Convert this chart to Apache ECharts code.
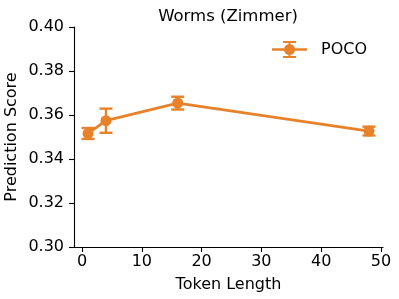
<!DOCTYPE html>
<html><head><meta charset="utf-8">
<script src="https://cdn.jsdelivr.net/npm/echarts@6/dist/echarts.min.js"></script>
<style>html,body{margin:0;padding:0;background:#fff}#c{width:399px;height:299px}</style>
</head><body><div id="c"></div>
<script>
const tokenLengths = [1, 4, 16, 48];
const scores = [0.3516, 0.3574, 0.3654, 0.3527];
const errors = [0.0025, 0.0055, 0.0029, 0.0020];
const xTicks = [0, 10, 20, 30, 40, 50];
const seriesName = 'POCO';
const titleText = 'Worms (Zimmer)';
const xName = 'Token Length';
const yName = 'Prediction Score';

const color = '#E8822A';
const font = 'DejaVu Sans';
const fs = 16;
const chart = echarts.init(document.getElementById('c'), null, {renderer: 'canvas'});
const lineData = tokenLengths.map((x, i) => [x, scores[i]]);
const errData = tokenLengths.map((x, i) => [x, scores[i] - errors[i], scores[i] + errors[i]]);
const icon = 'path://M0,7.25 L35,7.25 L35,9.75 L0,9.75 Z M16.5,0 L18.5,0 L18.5,17 L16.5,17 Z M11,0 L24,0 L24,2 L11,2 Z M11,15 L24,15 L24,17 L11,17 Z M12,8.5 A5.5,5.5 0 1,1 23,8.5 A5.5,5.5 0 1,1 12,8.5 Z';

chart.setOption({
  animation: false,
  backgroundColor: '#fff',
  title: {text: titleText, left: 223, textAlign: 'center', top: 3,
    textStyle: {fontFamily: font, fontSize: 16.5, fontWeight: 'normal', color: '#000'}},
  legend: {data: [{name: seriesName, icon: icon}], left: 267, top: 36, itemWidth: 35, itemHeight: 17,
    textStyle: {fontFamily: font, fontSize: fs, color: '#000', padding: [0, 0, 0, 9]}},
  grid: {left: 74, right: 16, top: 27, bottom: 52, outerBoundsMode: 'none', containLabel: false},
  xAxis: {type: 'value', min: -1.35, max: 50.35,
    name: xName, nameLocation: 'middle', nameGap: 30,
    nameTextStyle: {fontFamily: font, fontSize: fs, color: '#000'},
    axisLine: {onZero: false, lineStyle: {color: '#000', width: 1.1}},
    axisTick: {show: true, length: 5, lineStyle: {color: '#000', width: 1.1}, customValues: xTicks},
    axisLabel: {fontFamily: font, fontSize: fs, color: '#000', margin: 7, customValues: xTicks},
    splitLine: {show: false}},
  yAxis: {type: 'value', min: 0.30, max: 0.40, interval: 0.02,
    name: yName, nameLocation: 'middle', nameGap: 54, nameMoveOverlap: false,
    nameTextStyle: {fontFamily: font, fontSize: fs, color: '#000'},
    axisLine: {show: true, onZero: false, lineStyle: {color: '#000', width: 1.1}},
    axisTick: {show: true, length: 5, lineStyle: {color: '#000', width: 1.1}},
    axisLabel: {fontFamily: font, fontSize: fs, color: '#000', margin: 10, formatter: v => v.toFixed(2)},
    splitLine: {show: false}},
  series: [
    {name: seriesName, type: 'line', data: lineData, symbol: 'circle', symbolSize: 11,
      lineStyle: {color: color, width: 2.8}, itemStyle: {color: color}, z: 3},
    {name: seriesName, type: 'custom', data: errData, z: 4,
      renderItem: function (params, api) {
        const x = api.value(0);
        const lo = api.coord([x, api.value(1)]);
        const hi = api.coord([x, api.value(2)]);
        const w = 6.5;
        const style = {stroke: color, lineWidth: 2.4};
        return {type: 'group', children: [
          {type: 'line', shape: {x1: lo[0], y1: lo[1], x2: hi[0], y2: hi[1]}, style: style},
          {type: 'line', shape: {x1: lo[0] - w, y1: lo[1], x2: lo[0] + w, y2: lo[1]}, style: style},
          {type: 'line', shape: {x1: hi[0] - w, y1: hi[1], x2: hi[0] + w, y2: hi[1]}, style: style}
        ]};
      }}
  ]
});
</script></body></html>
